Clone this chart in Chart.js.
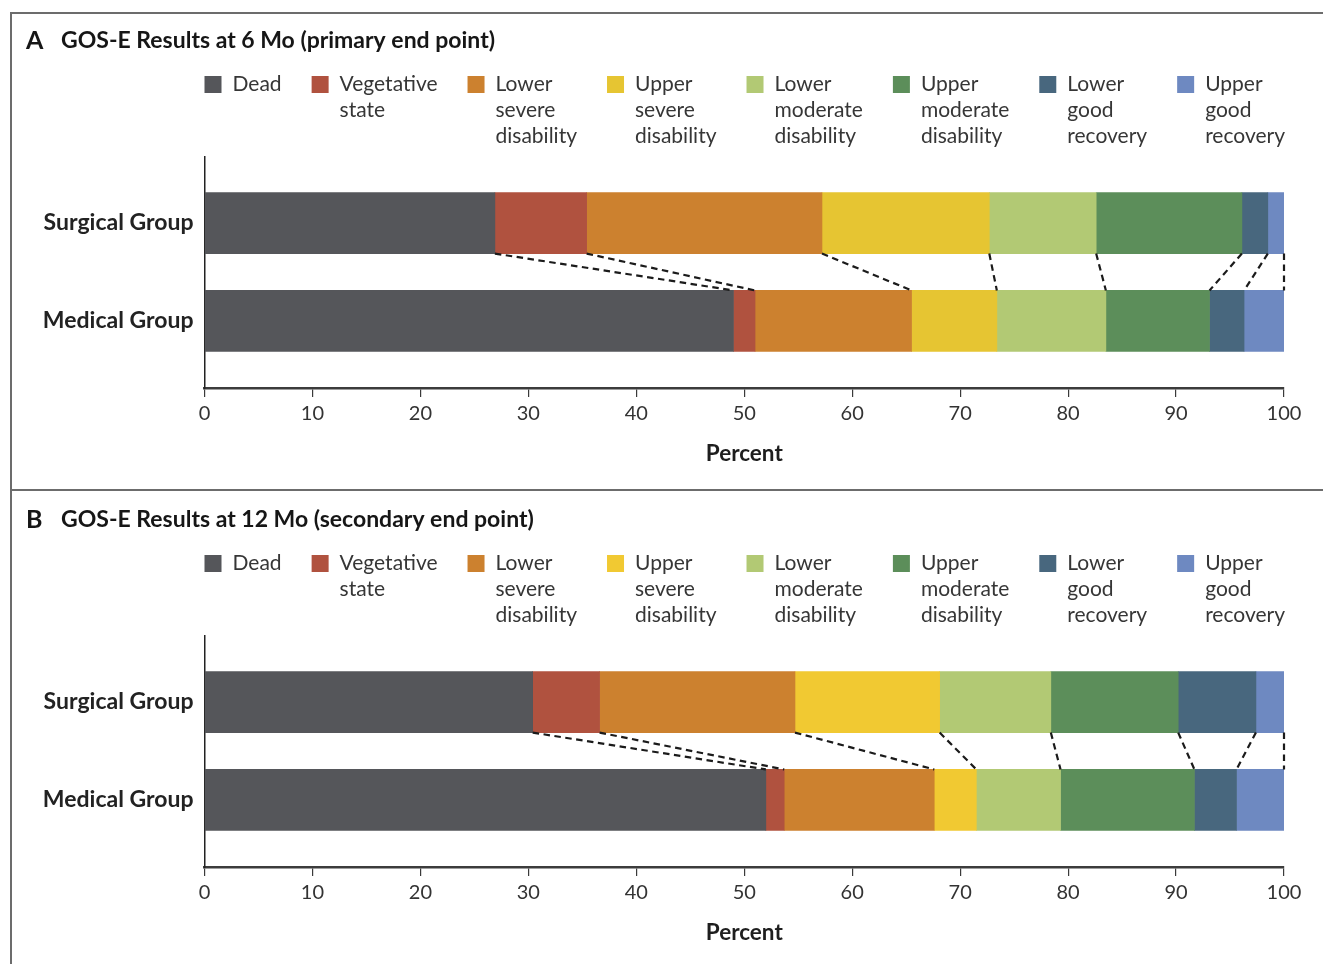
<!DOCTYPE html>
<html>
<head>
<meta charset="utf-8">
<title>GOS-E Results</title>
<script src="https://cdn.jsdelivr.net/npm/chart.js@4.4.1/dist/chart.umd.min.js"></script>
<style>
  html, body { margin: 0; padding: 0; background: #fff; width: 1323px; height: 964px; overflow: hidden; }
  canvas { position: absolute; display: block; }
  #chartA { left: 13px; top: 14px; }
  #chartB { left: 13px; top: 493px; }
  .rule { position: absolute; background: #6c6c6c; }
</style>
</head>
<body>
<canvas id="chartA" width="1310" height="477"></canvas>
<canvas id="chartB" width="1310" height="477"></canvas>
<div class="rule" style="left:10px; top:12px; width:1313px; height:2px;"></div>
<div class="rule" style="left:10px; top:489px; width:1313px; height:2px;"></div>
<div class="rule" style="left:10px; top:12px; width:2px; height:952px;"></div>
<script>
// GOS-E outcome categories (legend text, one entry per line)
const categories = [
  ['Dead'],
  ['Vegetative', 'state'],
  ['Lower', 'severe', 'disability'],
  ['Upper', 'severe', 'disability'],
  ['Lower', 'moderate', 'disability'],
  ['Upper', 'moderate', 'disability'],
  ['Lower', 'good', 'recovery'],
  ['Upper', 'good', 'recovery']
];
const colors6  = ['#55565a', '#b0523f', '#cc812f', '#e6c532', '#b2c974', '#5c8e5a', '#48677e', '#6e89c1'];
const colors12 = ['#55565a', '#b0523f', '#cc812f', '#f1c932', '#b2c974', '#5c8e5a', '#48677e', '#6e89c1'];
const groups = ['Surgical Group', 'Medical Group'];

// Percent of patients in each category, 6 months
const surgical6 = [26.9, 8.5, 21.8, 15.5, 9.9, 13.5, 2.4, 1.5];
const medical6  = [49.0, 2.0, 14.5, 7.9, 10.1, 9.6, 3.2, 3.7];
// Percent of patients in each category, 12 months
const surgical12 = [30.4, 6.2, 18.1, 13.4, 10.3, 11.8, 7.2, 2.6];
const medical12  = [52.0, 1.7, 13.9, 3.9, 7.8, 12.4, 3.9, 4.4];

const percentTicks = [0, 10, 20, 30, 40, 50, 60, 70, 80, 90, 100];

const FONT = 'Lato';

// Heading, multi-line legend and dashed links between matching category boundaries
const panelDecor = {
  id: 'panelDecor',
  afterDatasetsDraw(chart) {
    const ctx = chart.ctx;
    ctx.save();
    ctx.setLineDash([6.5, 4.5]);
    ctx.lineWidth = 2.2;
    ctx.strokeStyle = '#1b1b1b';
    chart.data.datasets.forEach((ds, i) => {
      const meta = chart.getDatasetMeta(i);
      const upper = meta.data[0], lower = meta.data[1];
      ctx.beginPath();
      ctx.moveTo(upper.x, upper.y + upper.height / 2);
      ctx.lineTo(lower.x, lower.y - lower.height / 2);
      ctx.stroke();
    });
    ctx.restore();
  },
  afterDraw(chart, args, opts) {
    const ctx = chart.ctx;
    const area = chart.chartArea;
    ctx.save();
    // heading
    ctx.fillStyle = '#161616';
    ctx.textBaseline = 'middle';
    ctx.textAlign = 'left';
    ctx.font = `bold 25px ${FONT}`;
    ctx.fillText(opts.letter, 13, 27);
    ctx.font = `bold 23px ${FONT}`;
    ctx.fillText(opts.heading, 48, 27);

    // legend, spread across the plot width
    ctx.font = `21px ${FONT}`;
    const items = chart.data.datasets.map(ds => ({ lines: ds.legendLines, color: ds.backgroundColor }));
    const widths = items.map(it => Math.max(...it.lines.map(l => ctx.measureText(l).width)));
    const box = 17, textGap = 11, lineStep = 26;
    const used = widths.reduce((a, w) => a + box + textGap + w, 0);
    const gap = (area.right + 1 - area.left - used) / (items.length - 1);
    let x = area.left;
    items.forEach((it, k) => {
      ctx.fillStyle = it.color;
      ctx.fillRect(x, 62, box, box);
      ctx.fillStyle = '#363636';
      it.lines.forEach((line, j) => ctx.fillText(line, x + box + textGap, 70 + j * lineStep));
      x += box + textGap + widths[k] + gap;
    });
    ctx.restore();
  }
};

function buildChart(canvasId, letter, heading, surgical, medical, colors) {
  const datasets = categories.map((lines, i) => ({
    label: lines.join(' '),
    legendLines: lines,
    data: [{ y: 0, x: surgical[i] }, { y: 1, x: medical[i] }],
    backgroundColor: colors[i],
    borderWidth: 0,
    barThickness: 61
  }));
  return new Chart(document.getElementById(canvasId), {
    type: 'bar',
    data: { datasets },
    plugins: [panelDecor],
    options: {
      indexAxis: 'y',
      responsive: false,
      animation: false,
      events: [],
      layout: { padding: { top: 143, right: 39, left: 0, bottom: 0 } },
      plugins: {
        legend: { display: false },
        tooltip: { enabled: false },
        panelDecor: { letter, heading }
      },
      scales: {
        x: {
          type: 'linear',
          stacked: true,
          min: 0,
          max: 100,
          afterBuildTicks: s => { s.ticks = percentTicks.map(v => ({ value: v })); },
          afterFit: s => { s.height = 103; },
          grid: { drawOnChartArea: false, drawTicks: true, tickLength: 9, color: '#3a3a3a', lineWidth: 1.2 },
          border: { display: true, color: '#3c3c3c', width: 2.5 },
          ticks: { padding: 5, color: '#333', font: { family: FONT, size: 20 } },
          title: {
            display: true,
            text: 'Percent',
            color: '#1e1e1e',
            font: { family: FONT, size: 22.5, weight: 'bold' },
            padding: { top: 0, bottom: 24 }
          }
        },
        y: {
          type: 'linear',
          stacked: true,
          reverse: true,
          offset: false,
          min: -0.675,
          max: 1.685,
          afterBuildTicks: s => { s.ticks = groups.map((g, i) => ({ value: i })); },
          afterFit: s => { s.width = 191.5; },
          grid: { display: false, drawTicks: false, offset: false },
          border: { display: true, color: '#222', width: 1.5 },
          ticks: {
            padding: 11,
            color: '#222',
            font: { family: FONT, size: 23, weight: 'bold' },
            callback: v => groups[v]
          }
        }
      }
    }
  });
}

buildChart('chartA', 'A', 'GOS-E Results at 6 Mo (primary end point)', surgical6, medical6, colors6);
buildChart('chartB', 'B', 'GOS-E Results at 12 Mo (secondary end point)', surgical12, medical12, colors12);
</script>
</body>
</html>
